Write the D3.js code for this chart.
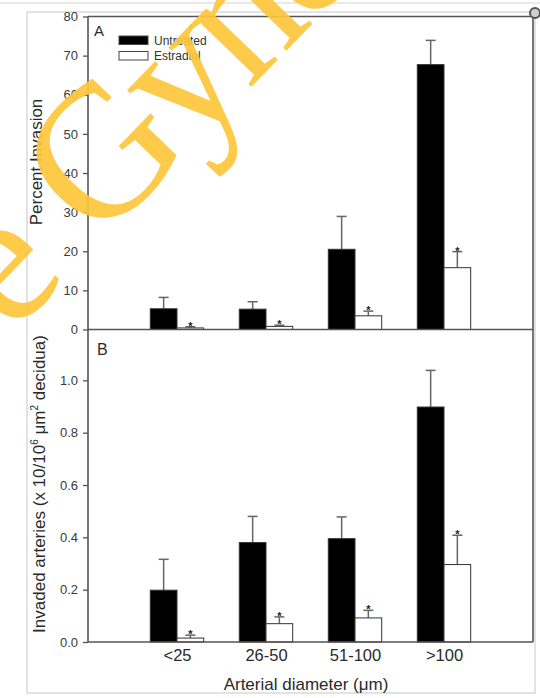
<!DOCTYPE html>
<html>
<head>
<meta charset="utf-8">
<script src="https://cdn.jsdelivr.net/npm/d3@7"></script>
<style>
  html, body { margin: 0; padding: 0; background: #fff; }
  svg { display: block; }
  text { font-family: "Liberation Sans", Arial, sans-serif; }
</style>
</head>
<body>
<svg id="chart" width="540" height="698"></svg>
<script>
// Arterial diameter classes
const categories = ["<25", "26-50", "51-100", ">100"];

// Panel A: percent invasion (mean, SEM)
const pctUntreated    = [5.3, 5.2, 20.5, 67.7];
const pctUntreatedErr = [2.9, 1.9, 8.4, 6.2];
const pctEstradiol    = [0.4, 0.8, 3.5, 15.8];
const pctEstradiolErr = [0.3, 0.3, 1.2, 4.1];

// Panel B: invaded arteries per 10^6 um^2 decidua (x 10)
const artUntreated    = [0.198, 0.380, 0.395, 0.898];
const artUntreatedErr = [0.118, 0.100, 0.083, 0.140];
const artEstradiol    = [0.015, 0.070, 0.092, 0.296];
const artEstradiolErr = [0.011, 0.026, 0.029, 0.112];

const pctTicks = [0, 10, 20, 30, 40, 50, 60, 70, 80];
const artTicks = [0, 0.2, 0.4, 0.6, 0.8, 1.0];

const svg = d3.select("#chart");
const axisColor = "#555";
const textColor = "#2a2a2a";

// page frame
svg.append("line").attr("x1", 0).attr("x2", 540).attr("y1", 3).attr("y2", 3)
  .attr("stroke", "#e2e2e2").attr("stroke-width", 1.5);
svg.append("rect").attr("x", 27).attr("y", 12).attr("width", 508).attr("height", 681)
  .attr("fill", "none").attr("stroke", "#d9d9d9").attr("stroke-width", 1.5);

// scales
const x  = d3.scaleLinear().domain([0, 5]).range([88, 533]);
const yA = d3.scaleLinear().domain([0, 80]).range([329.5, 16.5]);
const yB = d3.scaleLinear().domain([0, 1.2]).range([642, 328]);
const barW = x(0.3) - x(0);

// axes (ticks + labels)
function leftAxis(scale, ticks, fmt) {
  const g = svg.append("g").attr("transform", `translate(${x(0)},0)`)
    .call(d3.axisLeft(scale).tickValues(ticks).tickFormat(fmt).tickSize(5).tickPadding(5));
  g.select(".domain").remove();
  g.selectAll(".tick line").attr("stroke", axisColor).attr("stroke-width", 1.3);
  g.selectAll(".tick text").attr("fill", "#3a3a3a")
    .style("font-size", "13px").style("font-family", "'Liberation Sans', Arial, sans-serif");
}
leftAxis(yA, pctTicks, d3.format("d"));
leftAxis(yB, artTicks, d3.format(".1f"));

const gx = svg.append("g").attr("transform", `translate(0,${yB(0)})`)
  .call(d3.axisBottom(x).tickValues([1, 2, 3, 4]).tickFormat(i => categories[i - 1])
    .tickSize(0).tickPadding(7));
gx.select(".domain").remove();
gx.selectAll(".tick text").attr("fill", textColor)
  .style("font-size", "16.5px").style("font-family", "'Liberation Sans', Arial, sans-serif");

// bars, error bars and significance marks
function drawPanel(yScale, untreated, untreatedErr, estradiol, estradiolErr) {
  const series = [
    { vals: untreated, errs: untreatedErr, off: -0.3, fill: "#000", star: false },
    { vals: estradiol, errs: estradiolErr, off: 0, fill: "#fff", star: true }
  ];
  series.forEach(s => {
    const g = svg.append("g");
    const items = s.vals.map((v, i) => ({ v, e: s.errs[i], c: i + 1 }));
    g.selectAll("line.err").data(items).join("line")
      .attr("x1", d => x(d.c + s.off + 0.15)).attr("x2", d => x(d.c + s.off + 0.15))
      .attr("y1", d => yScale(d.v)).attr("y2", d => yScale(d.v + d.e))
      .attr("stroke", "#666").attr("stroke-width", 1.5);
    g.selectAll("line.cap").data(items).join("line")
      .attr("x1", d => x(d.c + s.off + 0.15) - 5).attr("x2", d => x(d.c + s.off + 0.15) + 5)
      .attr("y1", d => yScale(d.v + d.e)).attr("y2", d => yScale(d.v + d.e))
      .attr("stroke", "#666").attr("stroke-width", 1.5);
    g.selectAll("rect").data(items).join("rect")
      .attr("x", d => x(d.c + s.off)).attr("width", barW)
      .attr("y", d => yScale(d.v)).attr("height", d => yScale(0) - yScale(d.v))
      .attr("fill", s.fill).attr("stroke", "#333").attr("stroke-width", 1);
    if (s.star) {
      g.selectAll("text").data(items).join("text")
        .attr("x", d => x(d.c + s.off + 0.15)).attr("y", d => yScale(d.v + d.e) + 3)
        .attr("text-anchor", "middle").attr("fill", "#222")
        .style("font-size", "11px").style("font-weight", "bold").text("*");
    }
  });
}
drawPanel(yA, pctUntreated, pctUntreatedErr, pctEstradiol, pctEstradiolErr);
drawPanel(yB, artUntreated, artUntreatedErr, artEstradiol, artEstradiolErr);

// plot frame
const frame = svg.append("g").attr("stroke", axisColor).attr("stroke-width", 1.6);
frame.append("line").attr("x1", x(0)).attr("x2", x(0)).attr("y1", yA(80)).attr("y2", yB(0));
frame.append("line").attr("x1", x(5)).attr("x2", x(5)).attr("y1", 13).attr("y2", yB(0));
frame.append("line").attr("x1", x(0)).attr("x2", x(5)).attr("y1", yA(80)).attr("y2", yA(80));
frame.append("line").attr("x1", x(0)).attr("x2", x(5)).attr("y1", yA(0)).attr("y2", yA(0));
frame.append("line").attr("x1", x(0)).attr("x2", x(5)).attr("y1", yB(0)).attr("y2", yB(0));
svg.append("circle").attr("cx", 535).attr("cy", 13).attr("r", 5)
  .attr("fill", "#cfcfcf").attr("stroke", "#555").attr("stroke-width", 2);

// panel letters
svg.append("text").attr("x", 94).attr("y", 36).attr("fill", textColor)
  .style("font-size", "15px").text("A");
svg.append("text").attr("x", 97).attr("y", 355).attr("fill", textColor)
  .style("font-size", "16px").text("B");

// legend
const legend = [{ label: "Untreated", fill: "#000" }, { label: "Estradiol", fill: "#fff" }];
legend.forEach((d, i) => {
  svg.append("rect").attr("x", 119).attr("y", 36 + i * 15.5).attr("width", 29).attr("height", 8.5)
    .attr("fill", d.fill).attr("stroke", "#444").attr("stroke-width", 1);
  svg.append("text").attr("x", 154).attr("y", 44.5 + i * 15.5).attr("fill", "#333")
    .style("font-size", "12px").text(d.label);
});

// axis titles
svg.append("text").attr("transform", "translate(42,162) rotate(-90)")
  .attr("text-anchor", "middle").attr("fill", textColor)
  .style("font-size", "17px").text("Percent Invasion");

const yt = svg.append("text").attr("transform", "translate(45,484) rotate(-90)")
  .attr("text-anchor", "middle").attr("fill", textColor).style("font-size", "17px");
yt.append("tspan").text("Invaded arteries (x 10/10");
yt.append("tspan").attr("dy", -7).style("font-size", "10px").text("6");
yt.append("tspan").attr("dy", 7).text(" \u03bcm");
yt.append("tspan").attr("dy", -7).style("font-size", "10px").text("2");
yt.append("tspan").attr("dy", 7).text(" decidua)");

svg.append("text").attr("x", 306).attr("y", 690).attr("text-anchor", "middle")
  .attr("fill", textColor).style("font-size", "17px").text("Arterial diameter (\u03bcm)");

// watermark
svg.append("text").attr("transform", "translate(11,336) rotate(-46)")
  .attr("fill", "#fdc53a").attr("fill-opacity", 0.92)
  .style("font-family", "'Liberation Serif', 'Times New Roman', serif")
  .style("font-size", "190px").style("letter-spacing", "-8px").style("word-spacing", "10px")
  .text("e Gyne");
</script>
</body>
</html>
